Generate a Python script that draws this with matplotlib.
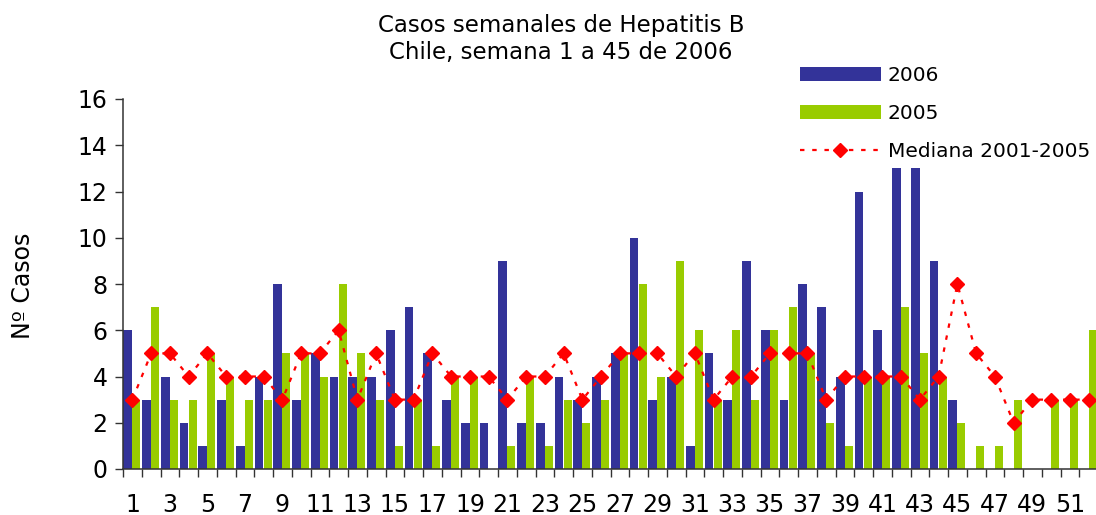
import numpy as np
import matplotlib
matplotlib.use("Agg")
import matplotlib.pyplot as plt
from matplotlib.patches import Patch
from matplotlib.lines import Line2D
from matplotlib.ticker import FixedLocator

# weekly data, weeks 1..52
weeks = list(range(1, 53))
casos_2006 = [6, 3, 4, 2, 1, 3, 1, 4, 8, 3, 5, 4, 4, 4, 6, 7, 5, 3, 2, 2,
              9, 2, 2, 4, 3, 4, 5, 10, 3, 4, 1, 5, 3, 9, 6, 3, 8, 7, 4, 12,
              6, 13, 13, 9, 3, 0, 0, 0, 0, 0, 0, 0]
casos_2005 = [3, 7, 3, 3, 5, 4, 3, 3, 5, 5, 4, 8, 5, 3, 1, 3, 1, 4, 4, 0,
              1, 4, 1, 3, 2, 3, 5, 8, 4, 9, 6, 3, 6, 3, 6, 7, 5, 2, 1, 4,
              4, 7, 5, 4, 2, 1, 1, 3, 0, 3, 3, 6]
mediana = [3, 5, 5, 4, 5, 4, 4, 4, 3, 5, 5, 6, 3, 5, 3, 3, 5, 4, 4, 4,
           3, 4, 4, 5, 3, 4, 5, 5, 5, 4, 5, 3, 4, 4, 5, 5, 5, 3, 4, 4,
           4, 4, 3, 4, 8, 5, 4, 2, 3, 3, 3, 3]
yticks = list(range(0, 17, 2))
xlabels = [str(w) if w % 2 == 1 else "" for w in weeks]

BLUE = "#333399"
GREEN = "#99CC00"
RED = "#FF0000"
DASH = (0, (2, 3.5))

plt.rcParams["font.family"] = ["DejaVu Sans"]

W, H = 1096, 515
fig = plt.figure(figsize=(W / 100, H / 100), dpi=100)
ax = fig.add_axes([123 / W, 46 / H, 975 / W, 370 / H])

x = np.array(weeks)
ax.bar(x - 0.245, casos_2006, width=0.47, color=BLUE, zorder=2)
ax.bar(x + 0.21, casos_2005, width=0.42, color=GREEN, zorder=2)
ax.plot(x, mediana, color=RED, lw=1.6, linestyle=DASH,
        marker="D", markersize=7, zorder=3)

ax.set_xlim(0.5, 52.5)
ax.set_ylim(0, 16)
ax.set_yticks(yticks)
ax.set_xticks(weeks)
ax.set_xticklabels(xlabels)
ax.xaxis.set_minor_locator(FixedLocator(np.arange(0.5, 53, 1)))

for s in ["top", "right"]:
    ax.spines[s].set_visible(False)
for s in ["left", "bottom"]:
    ax.spines[s].set_color("#333333")
    ax.spines[s].set_linewidth(1.1)

ax.tick_params(axis="x", which="major", length=0, pad=17, labelsize=17)
ax.tick_params(axis="x", which="minor", length=6, width=1, color="#333333",
               direction="out")
ax.tick_params(axis="y", length=6, width=1, color="#333333", pad=5,
               labelsize=17)

fig.text(561 / W, 1 - 39 / H,
         "Casos semanales de Hepatitis B\nChile, semana 1 a 45 de 2006",
         ha="center", va="center", fontsize=16.5, linespacing=1.2)
fig.text(23 / W, 1 - 286 / H, "Nº Casos", rotation=90,
         ha="center", va="center", fontsize=17)

handles = [
    Patch(facecolor=BLUE, edgecolor="none"),
    Patch(facecolor=GREEN, edgecolor="none"),
    Line2D([], [], color=RED, lw=1.6, linestyle=DASH, marker="D",
           markersize=7),
]
fig.legend(handles, ["2006", "2005", "Mediana 2001-2005"],
           loc="upper left", bbox_to_anchor=(800 / W, 1 - 66 / H),
           frameon=False, fontsize=14.5, handlelength=4, handleheight=0.75,
           handletextpad=0.35, labelspacing=0.95, borderpad=0,
           borderaxespad=0, numpoints=1)

fig.savefig("out.png", dpi=100)
